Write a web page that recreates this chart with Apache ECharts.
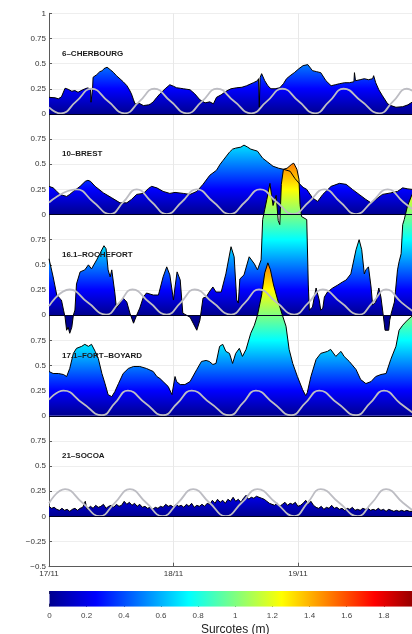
<!DOCTYPE html>
<html>
<head>
<meta charset="utf-8">
<script src="https://cdn.jsdelivr.net/npm/echarts@6/dist/echarts.min.js"></script>
<style>html,body{margin:0;padding:0;background:#fff}#c{width:412px;height:634px}</style>
</head>
<body>
<div id="c"></div>
<script>
// ---------------- DATA (hours since 17/11 00:00, surge in m) ----------------
const stationNames = ['6\u2013CHERBOURG', '10\u2013BREST', '16.1\u2013ROCHEFORT', '17.1\u2013FORT\u2013BOYARD', '21\u2013SOCOA'];
const dayLabels = ['17/11', '18/11', '19/11'];
const colorbarRange = [0, 2];
const colorbarName = 'Surcotes (m)';

const cherbourg = [[0,0.165],[1.2,0.16],[1.8,0.15],[2.4,0.17],[3.1,0.255],[3.7,0.245],[4.4,0.225],[5.0,0.232],[5.6,0.215],[6.5,0.24],[7.4,0.258],[8.0,0.25],[8.1,0.116],[8.3,0.116],[8.4,0.25],[8.5,0.364],[9.2,0.39],[9.8,0.42],[10.3,0.43],[10.6,0.45],[11.2,0.464],[11.8,0.44],[12.4,0.414],[13.0,0.38],[13.7,0.348],[14.3,0.32],[15.0,0.282],[15.5,0.24],[15.9,0.199],[16.3,0.14],[16.6,0.099],[17.4,0.105],[18.2,0.083],[19.2,0.09],[19.6,0.1],[20.1,0.12],[20.8,0.165],[21.4,0.2],[22.4,0.25],[23.3,0.29],[24.0,0.275],[24.6,0.26],[25.3,0.255],[25.9,0.25],[26.6,0.245],[27.2,0.24],[28.1,0.2],[29.1,0.14],[30.1,0.11],[31.0,0.12],[31.7,0.1],[32.3,0.165],[33.2,0.19],[34.3,0.23],[35.1,0.25],[36.2,0.26],[37.2,0.265],[38.1,0.28],[39.4,0.31],[40.2,0.33],[40.4,0.35],[40.55,0.066],[40.7,0.36],[41.0,0.40],[41.6,0.33],[42.2,0.28],[42.8,0.25],[43.6,0.25],[44.5,0.26],[45.2,0.3],[45.8,0.35],[46.5,0.38],[47.3,0.41],[48.2,0.45],[49.0,0.48],[49.9,0.49],[50.8,0.43],[51.6,0.42],[52.4,0.41],[53.4,0.33],[54.4,0.28],[55.2,0.29],[56.0,0.30],[57.0,0.31],[57.9,0.31],[58.8,0.32],[58.9,0.41],[59.1,0.33],[60.0,0.34],[60.8,0.35],[61.6,0.34],[62.4,0.35],[62.6,0.38],[62.8,0.38],[63.0,0.31],[63.6,0.24],[64.3,0.18],[65.3,0.10],[66.1,0.08],[66.9,0.066],[68.2,0.072],[69.2,0.09],[70,0.116],[71,0.12]];

const brest = [[0,0.28],[0.8,0.265],[1.5,0.23],[2.1,0.2],[3.4,0.18],[4.0,0.2],[4.7,0.23],[6.0,0.28],[7.0,0.33],[7.5,0.34],[8.0,0.33],[8.9,0.28],[10.5,0.215],[12.1,0.166],[13.7,0.116],[15.0,0.116],[15.9,0.15],[16.9,0.2],[18.2,0.21],[19.2,0.26],[19.8,0.28],[20.8,0.265],[22.0,0.23],[23.3,0.21],[24.3,0.22],[25.9,0.21],[27.2,0.2],[28.5,0.23],[29.7,0.3],[31.0,0.39],[32.3,0.44],[33.0,0.5],[33.6,0.54],[34.8,0.62],[35.4,0.65],[36.0,0.66],[37.0,0.67],[37.6,0.69],[38.3,0.67],[38.9,0.65],[40.2,0.63],[41.2,0.56],[42.2,0.52],[43.2,0.48],[44.3,0.46],[45.2,0.45],[46.5,0.43],[47.4,0.36],[48.4,0.3],[49.0,0.27],[49.7,0.25],[50.8,0.166],[51.8,0.13],[52.8,0.2],[54.4,0.28],[56.0,0.31],[57.3,0.3],[58.5,0.25],[59.8,0.2],[61.1,0.15],[62.1,0.116],[63.0,0.15],[64.3,0.2],[65.9,0.215],[67.2,0.23],[68.2,0.265],[69.2,0.255],[70,0.25],[71,0.25]];

const rochefort = [[0,0.56],[0.8,0.38],[1.5,0.2],[2.0,0.17],[2.4,0.15],[2.8,0.05],[3.1,-0.02],[3.4,-0.15],[3.7,-0.12],[4.0,-0.18],[4.4,-0.12],[4.7,0],[5.0,0.05],[5.3,0.31],[6.0,0.43],[6.9,0.45],[7.6,0.5],[8.2,0.46],[9.2,0.55],[9.8,0.61],[10.6,0.69],[11.0,0.66],[11.4,0.45],[11.8,0.38],[12.1,0.45],[12.4,0.46],[12.7,0.22],[13.0,0.07],[13.7,0.12],[14.3,0.17],[15.0,0.13],[15.6,0.02],[16.3,-0.08],[16.9,0],[17.5,0.07],[18.2,0.18],[18.8,0.22],[20.1,0.2],[21.1,0.2],[22.0,0.38],[22.7,0.48],[23.3,0.4],[24.0,0.15],[24.3,0.28],[24.7,0.43],[25.3,0.35],[25.8,0.02],[26.5,0],[27.2,-0.02],[27.8,-0.08],[28.5,-0.15],[29.1,-0.05],[29.7,0.17],[30.3,0.18],[30.9,0.23],[31.6,0.28],[32.2,0.23],[33.2,0.23],[34.1,0.41],[35.1,0.68],[35.7,0.58],[36.2,0.15],[36.5,0.12],[36.8,0.36],[37.6,0.4],[38.6,0.58],[39.6,0.51],[40.2,0.45],[40.9,0.55],[41.2,0.95],[41.6,1.05],[42.0,1.15],[42.6,1.31],[42.9,1.2],[43.2,1.09],[43.8,1.19],[44.2,0.94],[44.5,0.9],[44.8,1.3],[45.2,1.45],[45.9,1.46],[46.8,1.5],[47.2,1.51],[47.8,1.45],[48.2,1.35],[48.4,1.1],[48.7,0.98],[49.7,0.95],[50.0,0.3],[50.2,0.05],[50.8,0.08],[51.5,0.27],[51.8,0.28],[52.1,0.15],[52.4,0.05],[52.8,0.07],[53.1,0.18],[53.7,0.23],[54.7,0.27],[55.7,0.3],[56.6,0.33],[57.3,0.35],[58.2,0.41],[59.2,0.65],[59.8,0.75],[60.3,0.65],[60.8,0.41],[61.1,0.45],[61.6,0.48],[62.1,0.28],[62.4,0.1],[63.0,0.13],[63.6,0.27],[64.0,0.18],[64.4,0.02],[64.8,-0.15],[65.5,-0.15],[65.7,-0.05],[66.0,0.02],[66.6,0.13],[67.2,0.45],[67.5,0.53],[67.9,0.61],[68.2,0.9],[68.5,0.95],[69.1,1.08],[70,1.2],[71,1.25]];

const fortBoyard = [[0,0.44],[0.8,0.42],[1.8,0.42],[2.8,0.41],[3.4,0.39],[4.0,0.47],[4.7,0.62],[5.3,0.67],[6.3,0.69],[6.9,0.71],[7.6,0.69],[8.2,0.71],[8.9,0.64],[9.5,0.57],[10.2,0.42],[10.8,0.32],[11.4,0.21],[12.1,0.19],[12.7,0.24],[13.4,0.32],[14.3,0.42],[15.3,0.47],[16.3,0.49],[17.5,0.49],[18.8,0.47],[20.1,0.44],[20.8,0.39],[21.4,0.37],[22.0,0.34],[23.0,0.29],[23.7,0.21],[24.3,0.39],[24.6,0.34],[25.3,0.31],[26.2,0.31],[27.2,0.34],[28.5,0.46],[29.4,0.54],[30.3,0.55],[30.9,0.54],[31.6,0.51],[32.2,0.52],[32.9,0.69],[33.5,0.71],[34.1,0.64],[34.8,0.62],[35.4,0.52],[36.0,0.62],[36.7,0.67],[37.3,0.59],[38.0,0.66],[38.9,0.82],[39.6,0.9],[40.2,1.0],[41.0,1.2],[41.6,1.42],[42.2,1.52],[42.7,1.45],[43.3,1.3],[44.1,1.15],[45.0,1.0],[45.7,0.89],[46.3,0.66],[47.0,0.52],[47.9,0.39],[48.9,0.26],[49.5,0.2],[49.8,0.23],[50.5,0.39],[51.5,0.56],[52.4,0.62],[53.7,0.64],[54.3,0.66],[55.3,0.59],[56.3,0.64],[56.9,0.59],[57.9,0.54],[59.2,0.46],[60.1,0.36],[61.1,0.32],[62.1,0.34],[63.0,0.39],[64.0,0.41],[65.0,0.42],[65.9,0.56],[66.9,0.69],[67.5,0.85],[68.2,0.9],[69.1,0.95],[70,0.99],[71,1.0]];

const socoa = [[0,0.10],[0.5,0.08],[1,0.09],[1.5,0.07],[2,0.06],[2.5,0.08],[3,0.06],[3.5,0.07],[4,0.05],[4.5,0.07],[5,0.08],[5.5,0.06],[6,0.08],[6.5,0.09],[7,0.15],[7.3,0.07],[7.5,0.08],[8,0.10],[8.5,0.08],[9,0.11],[9.5,0.09],[10,0.10],[10.5,0.12],[11,0.08],[11.5,0.10],[12,0.11],[12.5,0.09],[13,0.12],[13.5,0.10],[14,0.11],[14.5,0.15],[15,0.12],[15.5,0.14],[16,0.11],[16.5,0.13],[17,0.10],[17.5,0.12],[18,0.09],[18.5,0.10],[19,0.08],[19.5,0.09],[20,0.07],[20.5,0.09],[21,0.08],[21.5,0.10],[22,0.09],[22.5,0.12],[23,0.10],[23.5,0.11],[24,0.09],[24.5,0.12],[25,0.10],[25.5,0.11],[26,0.09],[26.5,0.12],[27,0.10],[27.5,0.13],[28,0.09],[28.5,0.11],[29,0.10],[29.5,0.12],[30,0.10],[30.5,0.13],[31,0.12],[31.5,0.16],[32,0.13],[32.5,0.17],[33,0.14],[33.5,0.16],[34,0.13],[34.5,0.17],[35,0.15],[35.5,0.19],[36,0.15],[36.5,0.17],[37,0.14],[37.5,0.18],[38,0.21],[38.5,0.17],[39,0.19],[39.5,0.18],[40,0.20],[40.5,0.19],[41,0.18],[41.5,0.17],[42,0.15],[42.5,0.13],[43,0.12],[43.5,0.11],[44,0.13],[44.5,0.10],[45,0.12],[45.5,0.14],[46,0.11],[46.5,0.13],[47,0.12],[47.5,0.14],[48,0.10],[48.5,0.11],[49,0.13],[49.5,0.16],[50,0.12],[50.5,0.15],[51,0.11],[51.5,0.09],[52,0.08],[52.5,0.10],[53,0.07],[53.5,0.09],[54,0.08],[54.5,0.11],[55,0.08],[55.5,0.09],[56,0.07],[56.5,0.08],[57,0.06],[57.5,0.08],[58,0.07],[58.5,0.09],[59,0.06],[59.5,0.07],[60,0.06],[60.5,0.08],[61,0.07],[61.5,0.08],[62,0.06],[62.5,0.07],[63,0.06],[63.5,0.08],[64,0.06],[64.5,0.07],[65,0.05],[65.5,0.07],[66,0.06],[66.5,0.05],[67,0.06],[67.5,0.05],[68,0.06],[68.5,0.05],[69,0.06],[69.5,0.05],[70,0.05],[71,0.06]];

// tide curves (m), read at extrema and mid-levels
const tideCherbourg = [[0,0.065],[2.3,0.005],[5.25,0.125],[8.2,0.25],[11.4,0.125],[14.6,0.005],[17.45,0.125],[20.3,0.25],[23.45,0.125],[26.6,0.005],[29.5,0.125],[32.4,0.25],[35.7,0.125],[39.0,0.005],[42.0,0.125],[45.0,0.25],[48.15,0.125],[51.3,0.005],[54.05,0.125],[56.8,0.25],[60.25,0.125],[63.7,0.005],[66.35,0.125],[69.0,0.25],[72.0,0.125]];
const tideBrest = [[0,0.12],[5.3,0.25],[8.55,0.125],[11.8,0.005],[14.35,0.125],[16.9,0.25],[19.8,0.125],[22.7,0.005],[25.6,0.125],[28.5,0.25],[31.7,0.125],[34.9,0.005],[37.8,0.125],[40.7,0.25],[43.9,0.125],[47.1,0.005],[50.1,0.125],[53.1,0.25],[56.15,0.125],[59.2,0.005],[62.25,0.125],[65.3,0.25],[68.3,0.125],[71.3,0.005]];
const tideRochefort = [[0,0.09],[4.0,0.255],[7.5,0.125],[11.0,0.005],[13.55,0.125],[16.1,0.255],[19.4,0.125],[22.7,0.005],[25.4,0.125],[28.1,0.255],[31.6,0.125],[35.1,0.005],[37.8,0.125],[40.5,0.255],[43.9,0.125],[47.3,0.005],[50.05,0.125],[52.8,0.255],[56.3,0.125],[59.8,0.005],[62.4,0.125],[65.0,0.255],[68.0,0.125],[71.0,0.005]];
const tideFortBoyard = [[0,0.16],[2.8,0.25],[6.5,0.125],[10.2,0.005],[12.7,0.125],[15.2,0.25],[18.6,0.125],[22.0,0.005],[24.75,0.125],[27.5,0.25],[31.15,0.125],[34.8,0.005],[37.35,0.125],[39.9,0.25],[43.3,0.125],[46.7,0.005],[49.4,0.125],[52.1,0.25],[55.65,0.125],[59.2,0.005],[61.9,0.125],[64.6,0.25],[67.7,0.125],[70.8,0.005]];
const tideSocoa = [[0,0.13],[3.1,0.27],[6.45,0.135],[9.8,0.003],[12.7,0.135],[15.6,0.27],[18.75,0.135],[21.9,0.003],[24.85,0.135],[27.8,0.27],[30.95,0.135],[34.1,0.003],[37.15,0.135],[40.2,0.27],[43.75,0.135],[47.3,0.003],[49.85,0.135],[52.4,0.27],[55.95,0.135],[59.5,0.003],[62.25,0.135],[65.0,0.27],[68.25,0.135],[71.5,0.003]];

// ---------------- CHART ----------------
const FONT = '"Liberation Sans", Arial, Helvetica, sans-serif';
const jet = [
  {offset: 0, color: '#00008f'}, {offset: 0.125, color: '#0000ff'},
  {offset: 0.375, color: '#00ffff'}, {offset: 0.625, color: '#ffff00'},
  {offset: 0.875, color: '#ff0000'}, {offset: 1, color: '#800000'}
];
const panels = [
  {name: stationNames[0], surge: cherbourg, tide: tideCherbourg},
  {name: stationNames[1], surge: brest, tide: tideBrest},
  {name: stationNames[2], surge: rochefort, tide: tideRochefort},
  {name: stationNames[3], surge: fortBoyard, tide: tideFortBoyard},
  {name: stationNames[4], surge: socoa, tide: tideSocoa}
];
const nP = panels.length;
const shift = (arr, off) => arr.map(d => [d[0], d[1] + off]);

function yLabel(v) {
  let loc;
  if (v > 0.999) loc = 1;
  else if (v < -(nP - 1) - 0.001) loc = v + (nP - 1);
  else loc = v - Math.floor(v + 1e-6);
  loc = Math.round(loc * 100) / 100;
  return (loc < 0 ? '\u2212' : '') + String(Math.abs(loc));
}

const fills = [], outlines = [], tides = [];
panels.forEach((p, i) => {
  const off = -i;
  fills.push({
    type: 'line', data: shift(p.surge, off), symbol: 'none', silent: true, z: 2,
    lineStyle: {width: 0, opacity: 0},
    areaStyle: {origin: off, opacity: 1, color: '#00008f'}
  });
  outlines.push({
    type: 'line', data: shift(p.surge, off), symbol: 'none', silent: true, z: 3,
    lineStyle: {color: '#000', width: 1},
    markLine: {silent: true, symbol: ['none', 'none'], animation: false, label: {show: false},
      lineStyle: {color: '#000020', width: 1, type: 'solid'}, data: [{yAxis: off}]}
  });
  tides.push({
    type: 'line', data: shift(p.tide, off), smooth: true, symbol: 'none', silent: true, z: 4,
    lineStyle: {color: '#bdbdc3', width: 1.8}
  });
});

const colorbarSeries = {
  type: 'line', xAxisIndex: 1, yAxisIndex: 1, symbol: 'none', silent: true, z: 2,
  data: [[colorbarRange[0], 1], [colorbarRange[1], 1]],
  lineStyle: {width: 0, opacity: 0},
  areaStyle: {origin: 'start', opacity: 1,
    color: {type: 'linear', x: 0, y: 0, x2: 1, y2: 0, colorStops: jet}}
};

const chart = echarts.init(document.getElementById('c'), null, {renderer: 'canvas'});
chart.setOption({
  animation: false,
  backgroundColor: '#fff',
  grid: [
    {left: 49, right: -10.4, top: 13.3, bottom: 67.3, containLabel: false, outerBoundsMode: 'none'},
    {left: 49.5, right: -9, top: 591, height: 15.7, containLabel: false, outerBoundsMode: 'none'}
  ],
  xAxis: [
    {type: 'value', gridIndex: 0, min: 0, max: 72, interval: 24,
      axisLine: {show: true, onZero: false, lineStyle: {color: '#5a5a5a', width: 1}},
      axisTick: {show: true, inside: true, length: 4, lineStyle: {color: '#5a5a5a'}},
      axisLabel: {margin: 3, fontSize: 8, color: '#333', fontFamily: FONT,
        formatter: v => (v % 24 === 0 && v / 24 < dayLabels.length) ? dayLabels[v / 24] : ''},
      splitLine: {show: true, lineStyle: {color: '#e8e8e8', width: 1}}},
    {type: 'value', gridIndex: 1, min: colorbarRange[0], max: colorbarRange[1], interval: 0.2,
      axisLine: {show: false},
      axisTick: {show: true, inside: true, length: 3, lineStyle: {color: '#333', width: 1}},
      axisLabel: {margin: 5, fontSize: 8, color: '#444', fontFamily: FONT,
        formatter: v => String(Math.round(v * 10) / 10)},
      splitLine: {show: false},
      name: colorbarName, nameLocation: 'middle', nameGap: 17,
      nameTextStyle: {fontSize: 12, color: '#222', fontFamily: FONT}},
    {type: 'value', gridIndex: 1, position: 'top', min: colorbarRange[0], max: colorbarRange[1], interval: 0.2,
      axisLine: {show: false}, axisLabel: {show: false}, splitLine: {show: false},
      axisTick: {show: true, inside: true, length: 3, lineStyle: {color: '#333', width: 1}}}
  ],
  yAxis: [
    {type: 'value', gridIndex: 0, min: -(nP - 1) - 0.5, max: 1, interval: 0.25,
      axisLine: {show: true, onZero: false, lineStyle: {color: '#5a5a5a', width: 1}},
      axisTick: {show: true, inside: true, length: 3, lineStyle: {color: '#5a5a5a'}},
      axisLabel: {margin: 3, fontSize: 8, color: '#333', fontFamily: FONT, formatter: yLabel},
      splitLine: {show: true, lineStyle: {color: '#eeeeee', width: 1}}},
    {type: 'value', gridIndex: 1, min: 0, max: 1, show: false}
  ],
  series: fills.concat(outlines, tides, [colorbarSeries])
});

// vertical jet gradient anchored to each panel's baseline (0 -> 2 m)
const finder = {xAxisIndex: 0, yAxisIndex: 0};
const titleHour = 2.5, titleLevel = 0.6;
const fillUpdates = panels.map((p, i) => {
  const y0 = chart.convertToPixel(finder, [0, -i])[1];
  const y2 = chart.convertToPixel(finder, [0, -i + colorbarRange[1]])[1];
  return {areaStyle: {origin: -i, opacity: 1,
    color: {type: 'linear', x: 0, y: y0, x2: 0, y2: y2, global: true, colorStops: jet}}};
});
const titles = panels.map((p, i) => {
  const pt = chart.convertToPixel(finder, [titleHour, -i + titleLevel]);
  return {type: 'text', x: pt[0], y: pt[1], z: 5, silent: true,
    style: {text: p.name, font: 'bold 8px ' + FONT, fill: '#1a1a1a', verticalAlign: 'middle', align: 'left'}};
});
chart.setOption({series: fillUpdates, graphic: {elements: titles}});
</script>
</body>
</html>
